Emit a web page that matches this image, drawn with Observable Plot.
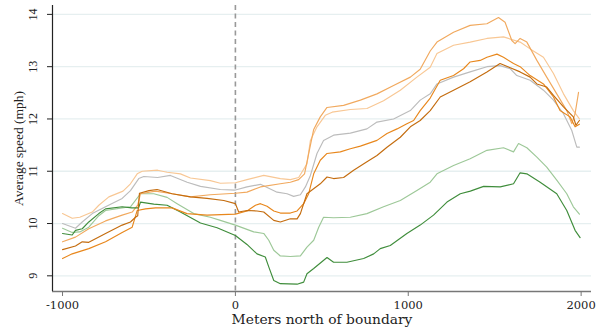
<!DOCTYPE html>
<html>
<head>
<meta charset="utf-8">
<script src="https://cdn.jsdelivr.net/npm/d3@7"></script>
<script src="https://cdn.jsdelivr.net/npm/@observablehq/plot@0.6"></script>
<style>
  html, body { margin: 0; padding: 0; background: #fff; }
  #chart svg { display: block; }
</style>
</head>
<body>
<div id="chart"></div>
<script>
// ---- Data ----
const xTicks = [-1000, 0, 1000, 2000];
const yTicks = [9, 10, 11, 12, 13, 14];
const xLabel = "Meters north of boundary";
const yLabel = "Average speed (mph)";

const peach = [[-1000,10.19],[-944,10.10],[-900,10.12],[-828,10.22],[-790,10.35],[-732,10.51],[-650,10.62],[-607,10.76],[-568,10.95],[-539,11.00],[-450,11.02],[-395,10.98],[-318,10.95],[-260,10.87],[-145,10.82],[-87,10.77],[0,10.78],[67,10.84],[164,10.92],[260,10.86],[318,10.84],[366,10.88],[414,11.14],[434,11.59],[472,11.85],[520,12.07],[560,12.13],[665,12.18],[761,12.20],[857,12.35],[954,12.55],[1050,12.80],[1127,12.99],[1166,13.25],[1262,13.41],[1358,13.47],[1455,13.54],[1551,13.57],[1647,13.47],[1705,13.34],[1782,13.18],[1840,12.87],[1898,12.48],[1955,12.16],[1990,12.00]];
const lightOrange = [[-1000,9.65],[-925,9.74],[-848,9.90],[-751,10.05],[-655,10.16],[-597,10.22],[-565,10.35],[-549,10.57],[-462,10.62],[-366,10.57],[-260,10.51],[-145,10.55],[0,10.58],[67,10.60],[145,10.70],[260,10.76],[318,10.79],[366,10.84],[400,10.95],[434,11.50],[453,11.80],[491,12.04],[530,12.22],[626,12.26],[723,12.36],[819,12.48],[915,12.64],[1012,12.80],[1069,12.95],[1127,13.30],[1166,13.47],[1262,13.66],[1358,13.79],[1455,13.82],[1522,13.94],[1560,13.85],[1599,13.50],[1618,13.44],[1647,13.54],[1686,13.47],[1744,13.12],[1801,12.80],[1859,12.48],[1917,12.16],[1946,11.91],[1965,12.10],[1985,12.51]];
const gray = [[-1000,10.00],[-925,9.91],[-886,10.03],[-828,10.19],[-751,10.32],[-655,10.48],[-607,10.63],[-559,10.86],[-530,10.90],[-450,10.88],[-376,10.92],[-279,10.79],[-202,10.71],[-87,10.65],[0,10.64],[67,10.70],[145,10.75],[241,10.60],[299,10.57],[337,10.52],[376,10.55],[405,10.70],[434,10.92],[472,11.34],[510,11.59],[568,11.69],[665,11.73],[761,11.81],[819,11.94],[915,12.00],[1012,12.16],[1069,12.36],[1127,12.48],[1166,12.67],[1262,12.80],[1358,12.90],[1455,13.00],[1531,13.02],[1590,12.96],[1628,12.83],[1705,12.74],[1782,12.55],[1840,12.36],[1898,12.10],[1946,11.78],[1975,11.46],[1990,11.46]];
const orange = [[-1000,9.33],[-944,9.42],[-848,9.52],[-751,9.65],[-655,9.83],[-597,9.93],[-568,10.25],[-520,10.28],[-462,10.30],[-366,10.30],[-280,10.19],[-164,10.16],[0,10.18],[67,10.24],[116,10.35],[145,10.38],[183,10.33],[222,10.24],[260,10.20],[318,10.20],[357,10.24],[395,10.38],[424,10.57],[453,10.95],[491,11.21],[530,11.34],[607,11.37],[665,11.43],[723,11.48],[819,11.59],[877,11.72],[935,11.81],[992,11.91],[1031,11.97],[1069,12.16],[1127,12.40],[1185,12.74],[1262,12.83],[1320,12.96],[1358,13.09],[1416,13.12],[1455,13.18],[1513,13.24],[1551,13.18],[1609,13.06],[1647,13.00],[1705,12.83],[1782,12.67],[1840,12.42],[1878,12.16],[1936,12.04],[1965,11.85],[1990,11.90]];
const darkOrange = [[-1000,9.50],[-925,9.57],[-886,9.65],[-848,9.64],[-751,9.81],[-655,9.97],[-607,10.03],[-578,10.12],[-565,10.15],[-555,10.58],[-500,10.63],[-453,10.65],[-366,10.57],[-260,10.51],[-164,10.48],[-67,10.44],[0,10.38],[19,10.22],[67,10.25],[125,10.24],[164,10.22],[222,10.06],[260,10.03],[318,10.09],[357,10.09],[376,10.19],[414,10.57],[491,10.76],[530,10.89],[568,10.86],[626,10.88],[684,11.02],[761,11.18],[819,11.30],[877,11.46],[954,11.65],[1012,11.85],[1069,11.97],[1127,12.16],[1185,12.42],[1262,12.55],[1358,12.71],[1455,12.90],[1531,13.06],[1590,12.98],[1647,12.90],[1705,12.80],[1744,12.67],[1801,12.61],[1840,12.45],[1898,12.23],[1955,12.04],[1970,11.88],[1990,11.97]];
const lightGreen = [[-1000,9.91],[-944,9.83],[-900,9.84],[-848,9.93],[-790,10.15],[-751,10.25],[-655,10.30],[-607,10.32],[-549,10.57],[-472,10.57],[-395,10.50],[-337,10.38],[-241,10.19],[-145,10.12],[-87,10.06],[0,9.97],[106,9.84],[164,9.81],[193,9.68],[222,9.49],[260,9.38],[318,9.37],[376,9.38],[414,9.55],[453,9.68],[482,9.93],[510,10.12],[568,10.11],[665,10.12],[761,10.19],[857,10.32],[954,10.44],[1050,10.63],[1127,10.79],[1166,10.95],[1262,11.11],[1358,11.24],[1455,11.40],[1551,11.45],[1609,11.37],[1638,11.53],[1686,11.45],[1744,11.27],[1801,11.08],[1859,10.83],[1917,10.57],[1955,10.32],[1990,10.18]];
const darkGreen = [[-1000,9.81],[-944,9.78],[-925,9.87],[-886,9.90],[-848,10.03],[-790,10.19],[-751,10.28],[-655,10.32],[-600,10.30],[-560,10.30],[-549,10.41],[-472,10.37],[-395,10.35],[-318,10.22],[-202,10.01],[-106,9.92],[0,9.77],[67,9.60],[125,9.42],[173,9.36],[193,9.17],[222,8.91],[260,8.85],[357,8.84],[395,8.88],[414,9.04],[453,9.14],[530,9.35],[568,9.26],[645,9.26],[742,9.33],[800,9.42],[838,9.52],[896,9.58],[992,9.81],[1069,9.97],[1146,10.16],[1224,10.41],[1301,10.57],[1359,10.62],[1436,10.71],[1532,10.70],[1609,10.76],[1647,10.97],[1686,10.95],[1763,10.79],[1859,10.57],[1917,10.25],[1965,9.87],[1994,9.73]];

const seriesData = [peach, gray, lightGreen, lightOrange, darkGreen, orange, darkOrange];
const seriesColors = ["#f8c794", "#bcbcbc", "#9dc898", "#f1a95e", "#3f8d3b", "#e8871c", "#c46c0e"];

// ---- Chart ----
const xDomain = [-1058, 2060];
const yDomain = [8.70, 14.17];
const wide = "DejaVu Serif";
const serif = "Liberation Serif";

const chart = Plot.plot({
  width: 596,
  height: 330,
  marginLeft: 52,
  marginRight: 5,
  marginTop: 5,
  marginBottom: 39,
  style: {fontFamily: serif, color: "#222", background: "#fff"},
  x: {domain: xDomain},
  y: {domain: yDomain},
  marks: [
    Plot.ruleY(yTicks, {stroke: "#e6eff0", strokeWidth: 1.3}),
    Plot.ruleX([0], {stroke: "#999", strokeWidth: 1.6, strokeDasharray: "5,3.5"}),
    ...seriesData.map((s, i) => Plot.line(s, {x: d => d[0], y: d => d[1], stroke: seriesColors[i], strokeWidth: 1.15})),
    Plot.ruleY([yDomain[0]], {stroke: "#777", strokeWidth: 1.5}),
    Plot.ruleX([xDomain[0]], {stroke: "#222", strokeWidth: 1.2}),
    Plot.axisY({ticks: yTicks, tickSize: 5, tickFormat: () => "", label: null, stroke: "#222"}),
    Plot.text(yTicks, {y: d => d, text: d => String(d), frameAnchor: "left", dx: -19.8, rotate: -90, textAnchor: "middle", lineAnchor: "middle", fontSize: 12, fontFamily: serif, fill: "#222"}),
    Plot.axisX({ticks: xTicks, tickSize: 5, tickPadding: 4, label: null, fontSize: 11.5, fontFamily: wide, stroke: "#777", fill: "#222", tickFormat: d => String(d)}),
    Plot.text([xLabel], {frameAnchor: "bottom", dy: 27.6, lineAnchor: "middle", fontSize: 13.8, fontFamily: wide, fill: "#222"}),
    Plot.text([yLabel], {frameAnchor: "left", dx: -34.3, rotate: -90, textAnchor: "middle", lineAnchor: "middle", fontSize: 13.5, fontFamily: serif, fill: "#222"})
  ]
});
document.getElementById("chart").appendChild(chart);
</script>
</body>
</html>
